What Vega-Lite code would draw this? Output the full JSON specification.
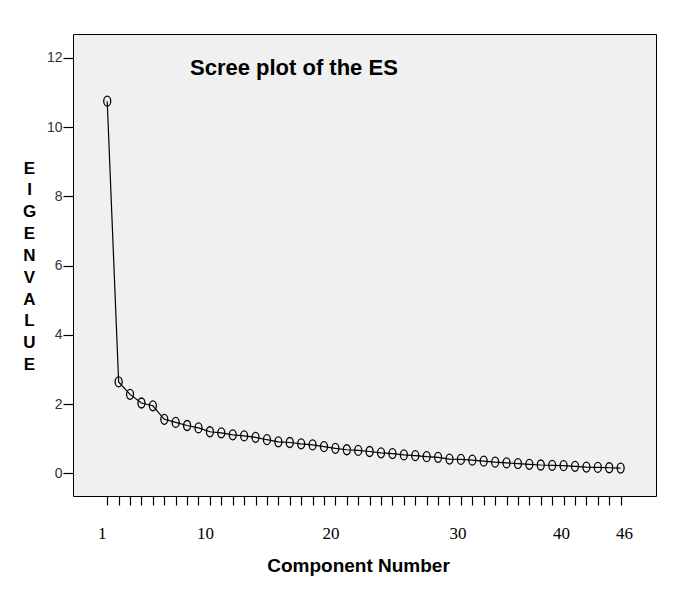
{
  "$schema": "https://vega.github.io/schema/vega-lite/v6.json",
  "autosize": "none",
  "width": 583,
  "height": 462,
  "padding": {"left": 73, "top": 34, "right": 19, "bottom": 93},
  "background": "white",
  "title": {
    "text": "Scree plot of the ES",
    "anchor": "start",
    "frame": "group",
    "orient": "top",
    "offset": -63,
    "dx": 117,
    "baseline": "alphabetic",
    "font": "Liberation Sans",
    "fontSize": 22,
    "fontWeight": "bold",
    "color": "black"
  },
  "config": {
    "view": {"fill": "#f0f0f0", "stroke": "black", "strokeWidth": 1},
    "axis": {"grid": false, "domain": false}
  },
  "data": {
    "values": [
      {"component": 1, "eigenvalue": 10.75},
      {"component": 2, "eigenvalue": 2.64},
      {"component": 3, "eigenvalue": 2.28},
      {"component": 4, "eigenvalue": 2.03},
      {"component": 5, "eigenvalue": 1.95},
      {"component": 6, "eigenvalue": 1.56},
      {"component": 7, "eigenvalue": 1.47},
      {"component": 8, "eigenvalue": 1.38},
      {"component": 9, "eigenvalue": 1.31},
      {"component": 10, "eigenvalue": 1.2},
      {"component": 11, "eigenvalue": 1.17},
      {"component": 12, "eigenvalue": 1.11},
      {"component": 13, "eigenvalue": 1.08},
      {"component": 14, "eigenvalue": 1.04},
      {"component": 15, "eigenvalue": 0.97},
      {"component": 16, "eigenvalue": 0.91},
      {"component": 17, "eigenvalue": 0.89},
      {"component": 18, "eigenvalue": 0.85},
      {"component": 19, "eigenvalue": 0.82},
      {"component": 20, "eigenvalue": 0.77},
      {"component": 21, "eigenvalue": 0.72},
      {"component": 22, "eigenvalue": 0.68},
      {"component": 23, "eigenvalue": 0.66},
      {"component": 24, "eigenvalue": 0.63},
      {"component": 25, "eigenvalue": 0.59},
      {"component": 26, "eigenvalue": 0.57},
      {"component": 27, "eigenvalue": 0.53},
      {"component": 28, "eigenvalue": 0.51},
      {"component": 29, "eigenvalue": 0.48},
      {"component": 30, "eigenvalue": 0.46},
      {"component": 31, "eigenvalue": 0.41},
      {"component": 32, "eigenvalue": 0.4},
      {"component": 33, "eigenvalue": 0.38},
      {"component": 34, "eigenvalue": 0.35},
      {"component": 35, "eigenvalue": 0.32},
      {"component": 36, "eigenvalue": 0.3},
      {"component": 37, "eigenvalue": 0.28},
      {"component": 38, "eigenvalue": 0.26},
      {"component": 39, "eigenvalue": 0.24},
      {"component": 40, "eigenvalue": 0.23},
      {"component": 41, "eigenvalue": 0.22},
      {"component": 42, "eigenvalue": 0.2},
      {"component": 43, "eigenvalue": 0.18},
      {"component": 44, "eigenvalue": 0.17},
      {"component": 45, "eigenvalue": 0.16},
      {"component": 46, "eigenvalue": 0.15}
    ]
  },
  "encoding": {
    "x": {
      "field": "component",
      "type": "quantitative",
      "scale": {"domain": [-2.0, 49.1], "nice": false, "zero": false},
      "axis": {
        "values": [1,2,3,4,5,6,7,8,9,10,11,12,13,14,15,16,17,18,19,20,21,22,23,24,25,26,27,28,29,30,31,32,33,34,35,36,37,38,39,40,41,42,43,44,45,46],
        "labelExpr": "(datum.value == 1 || datum.value == 10 || datum.value == 20 || datum.value == 30 || datum.value == 40 || datum.value == 46) ? datum.label : ''",
        "labelOffset": {"expr": "datum.value == 1 ? -5.6 : datum.value == 10 ? -5 : datum.value == 20 ? 6.5 : datum.value == 30 ? 19.5 : datum.value == 40 ? 8.7 : datum.value == 46 ? 3.3 : 0"},
        "labelOverlap": false,
        "labelBound": false,
        "labelFlush": false,
        "labelFont": "Liberation Serif",
        "labelFontSize": 17,
        "labelColor": "black",
        "labelPadding": 20,
        "tickSize": 9,
        "tickColor": "black",
        "tickWidth": 1.2,
        "title": "Component Number",
        "titleFont": "Liberation Sans",
        "titleFontSize": 19,
        "titleFontWeight": "bold",
        "titleColor": "black",
        "titleX": 285,
        "titleY": 75,
        "titleAlign": "center",
        "titleBaseline": "alphabetic"
      }
    },
    "y": {
      "field": "eigenvalue",
      "type": "quantitative",
      "scale": {"domain": [-0.656, 12.69], "nice": false, "zero": false},
      "axis": {
        "values": [0, 2, 4, 6, 8, 10, 12],
        "labelFont": "Liberation Sans",
        "labelFontSize": 14,
        "labelColor": "#333333",
        "labelPadding": 1,
        "tickSize": 10,
        "tickColor": "black",
        "tickWidth": 1.2,
        "title": ["E", "I", "G", "E", "N", "V", "A", "L", "U", "E"],
        "titleFont": "Liberation Sans",
        "titleFontSize": 17,
        "titleFontWeight": "bold",
        "titleColor": "black",
        "titleAngle": 0,
        "titleAlign": "center",
        "titleBaseline": "alphabetic",
        "titleLineHeight": 21.85,
        "titleX": -44,
        "titleY": 139
      }
    }
  },
  "layer": [
    {
      "mark": {"type": "line", "color": "black", "strokeWidth": 1.2}
    },
    {
      "mark": {
        "type": "point",
        "shape": "M0,-1A0.7,1,0,1,1,0,1A0.7,1,0,1,1,0,-1Z",
        "size": 100,
        "filled": false,
        "color": "black",
        "strokeWidth": 1.3,
        "opacity": 1
      }
    }
  ]
}
